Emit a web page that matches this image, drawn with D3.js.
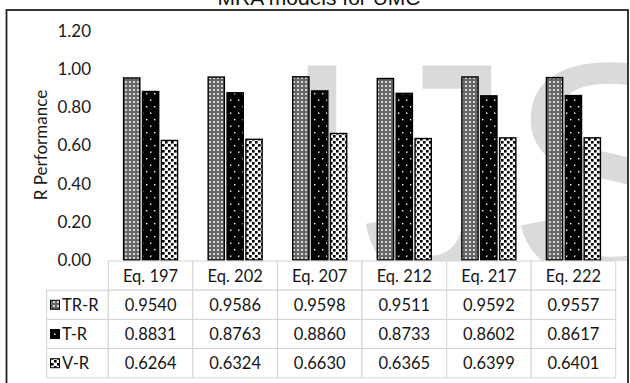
<!DOCTYPE html>
<html>
<head>
<meta charset="utf-8">
<script src="https://cdn.jsdelivr.net/npm/d3@7"></script>
<style>
  html, body { margin: 0; padding: 0; background: #fff; }
  svg { display: block; }
</style>
</head>
<body>
<svg id="chart" width="630" height="383"></svg>
<script>
// Data
const categories = ["Eq. 197", "Eq. 202", "Eq. 207", "Eq. 212", "Eq. 217", "Eq. 222"];
const seriesNames = ["TR-R", "T-R", "V-R"];
const trR = [0.9540, 0.9586, 0.9598, 0.9511, 0.9592, 0.9557];
const tR  = [0.8831, 0.8763, 0.8860, 0.8733, 0.8602, 0.8617];
const vR  = [0.6264, 0.6324, 0.6630, 0.6365, 0.6399, 0.6401];
const yTicks = [0, 0.2, 0.4, 0.6, 0.8, 1.0, 1.2];
const chartTitle = "MRA models for UMC";
const yTitle = "R Performance";
const markLetters = ["I", "J", "S"];

const seriesValues = [trR, tR, vR];
const series = seriesNames.map((name, i) => ({
  name, key: "p" + i,
  values: categories.map((c, j) => ({ cat: c, v: seriesValues[i][j] }))
}));

const svg = d3.select("#chart");
const font = "Lato, 'Open Sans', sans-serif";

// Fill patterns
const defs = svg.append("defs");
// TR-R: fine gray lattice
const p0 = defs.append("pattern").attr("id", "p0").attr("patternUnits", "userSpaceOnUse")
  .attr("width", 4).attr("height", 4);
p0.append("rect").attr("width", 4).attr("height", 4).attr("fill", "#666");
p0.append("rect").attr("x", 1).attr("y", 1).attr("width", 2).attr("height", 2).attr("fill", "#c8c8c8");
p0.append("rect").attr("x", 1.5).attr("y", 1.5).attr("width", 1).attr("height", 1).attr("fill", "#f4f4f4");
// T-R: black with sparse white dots
const p1 = defs.append("pattern").attr("id", "p1").attr("patternUnits", "userSpaceOnUse")
  .attr("width", 8).attr("height", 13);
p1.append("rect").attr("width", 8).attr("height", 13).attr("fill", "#000");
p1.append("rect").attr("x", 2).attr("y", 2).attr("width", 1.4).attr("height", 1.4).attr("fill", "#fff");
p1.append("rect").attr("x", 6).attr("y", 8.5).attr("width", 1.4).attr("height", 1.4).attr("fill", "#fff");
// V-R: white with black checks
const p2 = defs.append("pattern").attr("id", "p2").attr("patternUnits", "userSpaceOnUse")
  .attr("width", 6).attr("height", 6);
p2.append("rect").attr("width", 6).attr("height", 6).attr("fill", "#fff");
p2.append("rect").attr("x", 0).attr("y", 0).attr("width", 2.6).attr("height", 2.6).attr("fill", "#000");
p2.append("rect").attr("x", 3).attr("y", 3).attr("width", 2.6).attr("height", 2.6).attr("fill", "#000");

// Scales
const x0 = d3.scaleBand().domain(categories).range([108.3, 615.7]).paddingInner(0).paddingOuter(0);
const bw = x0.bandwidth();
const x1 = d3.scaleBand().domain(seriesNames).range([bw / 2 - 27, bw / 2 + 27]).paddingInner(0.14).paddingOuter(0);
const y = d3.scaleLinear().domain([0, 1.2]).range([260, 31]);

// Plot-area clip for the background lettering
defs.append("clipPath").attr("id", "plotClip")
  .append("rect").attr("x", 8).attr("y", 11).attr("width", 619).attr("height", 250);

// Title (sits partly above the frame)
svg.append("text").attr("x", 319).attr("y", 5).attr("text-anchor", "middle")
  .attr("font-family", "'Liberation Sans', Arial, sans-serif").attr("font-size", 21)
  .attr("fill", "#111").text(chartTitle);

// Outer frame
svg.append("rect").attr("x", 6.5).attr("y", 10).attr("width", 621.5).attr("height", 390)
  .attr("fill", "none").attr("stroke", "#222").attr("stroke-width", 1.8);

// Background lettering, one glyph per text so each can be placed
const markX = [279.5, 361, 507];
svg.append("g").attr("clip-path", "url(#plotClip)")
  .selectAll("text").data(markLetters).enter().append("text")
  .attr("x", (d, i) => markX[i]).attr("y", 276)
  .attr("font-family", "'Liberation Sans', Arial, sans-serif").attr("font-size", 306)
  .attr("fill", "#dadada").text(d => d);

// Y axis labels
const yAxis = d3.axisLeft(y).tickValues(yTicks).tickFormat(d3.format(".2f")).tickSize(0).tickPadding(0);
const gy = svg.append("g").attr("transform", "translate(91,0)").call(yAxis);
gy.select(".domain").remove();
gy.selectAll("text").attr("font-family", font).attr("font-size", 17).attr("fill", "#1a1a1a");

svg.append("text").attr("transform", "translate(41,145) rotate(-90)")
  .attr("text-anchor", "middle").attr("dy", "0.35em").attr("font-family", font).attr("font-size", 17)
  .attr("fill", "#1a1a1a").text(yTitle);

// Bars
const gBars = svg.append("g");
series.forEach(s => {
  gBars.selectAll(null).data(s.values).enter().append("rect")
    .attr("x", d => x0(d.cat) + x1(s.name))
    .attr("y", d => y(d.v))
    .attr("width", x1.bandwidth())
    .attr("height", d => y(0) - y(d.v))
    .attr("fill", "url(#" + s.key + ")")
    .attr("stroke", "#000").attr("stroke-width", 1.4);
});

// Data table
const rowTop = 261, rowH = 29.2, legendX = 46.7;
const gridColor = "#d3d3d3";
const gt = svg.append("g");
// header row
categories.forEach(c => {
  gt.append("rect").attr("x", x0(c)).attr("y", rowTop).attr("width", bw).attr("height", rowH)
    .attr("fill", "#fff").attr("stroke", gridColor).attr("stroke-width", 1);
  gt.append("text").attr("x", x0(c) + bw / 2).attr("y", rowTop + rowH / 2)
    .attr("dy", "0.36em").attr("text-anchor", "middle")
    .attr("font-family", font).attr("font-size", 16.5).attr("fill", "#151515").text(c);
});
series.forEach((s, i) => {
  const ry = rowTop + rowH * (i + 1);
  gt.append("rect").attr("x", legendX).attr("y", ry).attr("width", x0.range()[0] - legendX).attr("height", rowH)
    .attr("fill", "#fff").attr("stroke", gridColor).attr("stroke-width", 1);
  gt.append("rect").attr("x", 50.5).attr("y", ry + rowH / 2 - 4.5).attr("width", 9).attr("height", 9)
    .attr("fill", "url(#" + s.key + ")").attr("stroke", "#000").attr("stroke-width", 1);
  gt.append("text").attr("x", 62).attr("y", ry + rowH / 2).attr("dy", "0.36em")
    .attr("font-family", font).attr("font-size", 16.5).attr("fill", "#151515").text(s.name);
  s.values.forEach(d => {
    gt.append("rect").attr("x", x0(d.cat)).attr("y", ry).attr("width", bw).attr("height", rowH)
      .attr("fill", "#fff").attr("stroke", gridColor).attr("stroke-width", 1);
    gt.append("text").attr("x", x0(d.cat) + bw / 2).attr("y", ry + rowH / 2)
      .attr("dy", "0.36em").attr("text-anchor", "middle")
      .attr("font-family", font).attr("font-size", 16.5).attr("fill", "#151515").text(d3.format(".4f")(d.v));
  });
});
</script>
</body>
</html>
